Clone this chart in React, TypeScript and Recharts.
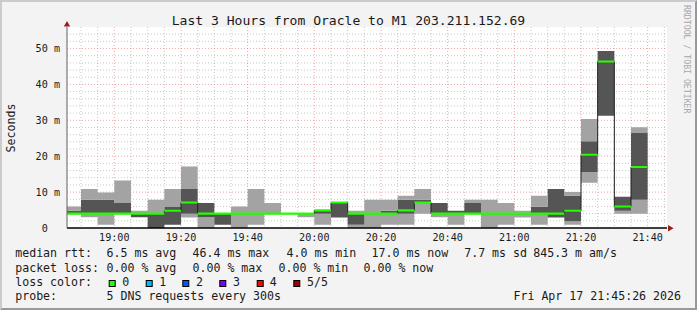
import React from 'react';
import { ComposedChart, Area, XAxis, YAxis, CartesianGrid } from 'recharts';

// ---------- data (5-minute slots, values in milliseconds) ----------
const slotTimes = [
  '18:45', '18:50', '18:55', '19:00', '19:05', '19:10', '19:15', '19:20', '19:25', '19:30',
  '19:35', '19:40', '19:45', '19:50', '19:55', '20:00', '20:05', '20:10', '20:15', '20:20',
  '20:25', '20:30', '20:35', '20:40', '20:45', '20:50', '20:55', '21:00', '21:05', '21:10',
  '21:15', '21:20', '21:25', '21:30', '21:35',
];
const pingMin = [
  4.0, 3.0, 0.9, 4.0, 3.0, 0.0, 0.9, 2.9, 0.0, 0.9,
  0.0, 0.9, 4.0, 4.0, 3.0, 0.9, 2.9, 0.0, 0.0, 0.9,
  0.9, 4.0, 3.0, 0.9, 4.0, 0.0, 0.9, 2.9, 0.9, 2.9,
  0.9, 12.6, 31.3, 4.0, 4.0,
];
const ping2 = [
  4.0, 4.0, 4.0, 4.0, 3.0, 0.0, 0.9, 4.0, 3.0, 0.9,
  4.0, 4.0, 4.0, 4.0, 4.0, 4.0, 2.9, 0.9, 4.0, 4.0,
  4.0, 7.1, 4.0, 4.0, 4.0, 4.0, 4.0, 4.0, 4.0, 2.9,
  1.9, 15.6, 31.3, 4.8, 7.9,
];
const median = [
  4.0, 4.0, 4.0, 4.0, 4.0, 4.0, 4.8, 7.1, 4.0, 4.0,
  4.0, 4.0, 4.0, 4.0, 4.0, 4.9, 7.1, 4.0, 4.0, 4.0,
  4.9, 7.1, 4.0, 4.0, 4.0, 4.0, 4.0, 4.0, 4.0, 4.0,
  4.8, 20.4, 46.4, 6.0, 17.0,
];
const ping4 = [
  4.8, 7.9, 7.9, 7.0, 4.0, 4.0, 6.0, 10.9, 7.0, 4.0,
  4.0, 4.0, 4.0, 4.0, 4.0, 4.9, 7.1, 4.0, 4.0, 4.8,
  7.9, 7.9, 7.0, 4.8, 7.0, 4.0, 4.0, 4.0, 5.9, 10.9,
  9.0, 24.2, 49.3, 8.7, 26.5,
];
const pingMax = [
  6.0, 10.9, 9.9, 13.2, 4.8, 7.9, 10.9, 17.1, 7.0, 4.0,
  6.0, 10.9, 7.0, 4.0, 4.0, 4.9, 7.1, 4.8, 7.9, 7.9,
  9.0, 10.9, 7.0, 4.8, 7.9, 7.9, 7.0, 4.8, 9.0, 10.9,
  10.0, 30.4, 49.3, 8.7, 28.1,
];

const xTickTimes = ['19:00', '19:20', '19:40', '20:00', '20:20', '20:40', '21:00', '21:20', '21:40'];
const yTickValues = [0, 10, 20, 30, 40, 50];
const yTickLabels = ['0  ', '10 m', '20 m', '30 m', '40 m', '50 m'];

const title = 'Last 3 Hours from Oracle to M1 203.211.152.69';
const yLabel = 'Seconds';
const watermark = 'RRDTOOL / TOBI OETIKER';
const legendRtt = ['median rtt:', '6.5 ms avg', '46.4 ms max', '4.0 ms min', '17.0 ms now', '7.7 ms sd', '845.3 m am/s'];
const legendLoss = ['packet loss:', '0.00 % avg', '0.00 % max', '0.00 % min', '0.00 % now'];
const lossLabels = ['0', '1', '2', '3', '4', '5/5'];
const lossColors = ['#26ff00', '#00b8ff', '#0059ff', '#7e00ff', '#ff0000', '#a00000'];
const probeText = ['probe:', '5 DNS requests every 300s'];
const stamp = 'Fri Apr 17 21:45:26 2026';

// ---------- helpers ----------
const STEP = 5;
const BAND = 0.6;
const toMin = (s: string) => {
  const [h, m] = s.split(':').map(Number);
  return h * 60 + m;
};
const X_START = toMin('18:45') + 0.8;
const X_END = X_START + 180;
const Y_MAX = 56;

const rows: any[] = slotTimes.map((s, i) => ({
  t: toMin(s),
  base: pingMin[i],
  lo: ping2[i] - pingMin[i],
  mid: ping4[i] - ping2[i],
  hi: pingMax[i] - ping4[i],
  medBase: median[i] - BAND / 2,
  medBand: BAND,
  median: median[i],
}));
// closing row so the last step is drawn to the end of its slot
rows.push({ ...rows[rows.length - 1], t: rows[rows.length - 1].t + STEP });

const xTicks = xTickTimes.map(toMin);
const xMinor: number[] = [];
for (let t = toMin('18:50'); t <= toMin('21:45'); t += STEP) if (!xTicks.includes(t)) xMinor.push(t);
const yMinor: number[] = [];
for (let v = 2; v < Y_MAX; v += 2) if (v % 10 !== 0) yMinor.push(v);
const yMajor = [10, 20, 30, 40, 50];

const scaleOf = (axis: any, v: number): number => {
  const s = axis?.scale;
  if (typeof s === 'function') return s(v);
  if (s && typeof s.map === 'function') return s.map(v);
  return NaN;
};

const MONO = '"DejaVu Sans Mono", monospace';
const LIGHT = '#a3a3a3';
const DARK = '#555555';

const XTick = (props: any) => {
  const { x, y, payload } = props;
  const i = xTicks.indexOf(payload.value);
  return (
    <text x={x} y={y} dy={7} textAnchor="middle" fontFamily={MONO} fontSize={10.15} fill="#1a1a1a">
      {xTickTimes[i]}
    </text>
  );
};
const YTick = (props: any) => {
  const { x, y, payload } = props;
  const i = yTickValues.indexOf(payload.value);
  return (
    <text x={x} y={y} dy={3.6} textAnchor="end" fontFamily={MONO} fontSize={10.15} fill="#1a1a1a"
      xmlSpace="preserve" style={{ whiteSpace: 'pre' }}>
      {yTickLabels[i]}
    </text>
  );
};

const legendX1 = [16, 107.3, 193.3, 287.3, 372.3, 465, 534];
const legendX2 = [16, 107.3, 193.3, 279.3, 364.3];
const boxX = [108.7, 145.7, 182.3, 219.3, 256.7, 293.3];
const boxLabelX = [123.3, 160.3, 197, 234, 270.7, 308];
const LF = 11.6;

export default function App() {
  return (
    <div style={{ position: 'absolute', left: 0, top: 0, width: 697, height: 310, background: '#f3f3f3', overflow: 'hidden' }}>
      <ComposedChart
        width={697}
        height={310}
        data={rows}
        margin={{ top: 27, right: 30, left: 7, bottom: 52 }}
      >
        <CartesianGrid
          fill="#ffffff"
          stroke="#8f8f8f"
          strokeOpacity={0.5}
          strokeDasharray="1 2"
          horizontalCoordinatesGenerator={({ yAxis }: any) => yMinor.map((v) => scaleOf(yAxis, v)).filter((n) => !isNaN(n))}
          verticalCoordinatesGenerator={({ xAxis }: any) => xMinor.map((v) => scaleOf(xAxis, v)).filter((n) => !isNaN(n))}
        />
        <CartesianGrid
          stroke="#de5050"
          strokeOpacity={0.5}
          strokeDasharray="1 2"
          horizontalCoordinatesGenerator={({ yAxis }: any) => yMajor.map((v) => scaleOf(yAxis, v)).filter((n) => !isNaN(n))}
          verticalCoordinatesGenerator={({ xAxis }: any) => xTicks.map((v) => scaleOf(xAxis, v)).filter((n) => !isNaN(n))}
        />
        <XAxis
          type="number"
          dataKey="t"
          domain={[X_START, X_END]}
          allowDataOverflow
          ticks={xTicks}
          interval={0}
          tick={<XTick />}
          tickLine={false}
          tickSize={3}
          tickMargin={3}
          height={30}
          axisLine={{ stroke: '#000000', strokeWidth: 1.3 }}
        />
        <YAxis
          type="number"
          domain={[0, Y_MAX]}
          ticks={yTickValues}
          interval={0}
          tick={<YTick />}
          tickLine={false}
          tickSize={3}
          tickMargin={4}
          width={60}
          axisLine={{ stroke: '#606060' }}
        />
        <Area type="stepAfter" dataKey="base" stackId="smoke" fill="none" stroke="none" isAnimationActive={false} activeDot={false} />
        <Area type="stepAfter" dataKey="lo" stackId="smoke" fill={LIGHT} fillOpacity={1} stroke="none" isAnimationActive={false} activeDot={false} />
        <Area type="stepAfter" dataKey="mid" stackId="smoke" fill={DARK} fillOpacity={1} stroke="none" isAnimationActive={false} activeDot={false} />
        <Area type="stepAfter" dataKey="hi" stackId="smoke" fill={LIGHT} fillOpacity={1} stroke="none" isAnimationActive={false} activeDot={false} />
        <Area type="stepAfter" dataKey="median" fill="none" fillOpacity={0} stroke="#202020" strokeWidth={1} isAnimationActive={false} activeDot={false} />
        <Area type="stepAfter" dataKey="medBase" stackId="med" fill="none" stroke="none" isAnimationActive={false} activeDot={false} />
        <Area type="stepAfter" dataKey="medBand" stackId="med" fill={lossColors[0]} fillOpacity={1} stroke="none" isAnimationActive={false} activeDot={false} />
      </ComposedChart>
      <svg width={697} height={310} style={{ position: 'absolute', left: 0, top: 0, pointerEvents: 'none' }}>
        {/* 3d frame */}
        <polygon points="0,310 2,308 2,2 695,2 697,0 0,0" fill="#cbcbcb" />
        <polygon points="2,308 695,308 695,2 697,0 697,310 0,310" fill="#999999" />
        {/* arrows */}
        <polygon points="63.8,26.5 70.2,26.5 67,21" fill="#9e1b1b" />
        <polygon points="668,225 668,231.6 673.6,228.3" fill="#9e1b1b" />
        <text x={348.5} y={24.5} textAnchor="middle" fontFamily={MONO} fontSize={13.05} fill="#1a1a1a">{title}</text>
        <text transform="translate(14.5,128) rotate(-90)" textAnchor="middle" fontFamily={MONO} fontSize={LF} fill="#1a1a1a">{yLabel}</text>
        <text transform="translate(684,5) rotate(90)" textAnchor="start" fontFamily={MONO} fontSize={8.2} fill="#a8a8a8">{watermark}</text>
        {legendRtt.map((s, i) => (
          <text key={'r' + i} x={legendX1[i] - 0.8} y={257.4} fontFamily={MONO} fontSize={LF} fill="#1a1a1a">{s}</text>
        ))}
        {legendLoss.map((s, i) => (
          <text key={'l' + i} x={legendX2[i] - 0.8} y={271.5} fontFamily={MONO} fontSize={LF} fill="#1a1a1a">{s}</text>
        ))}
        <text x={15.2} y={285.6} fontFamily={MONO} fontSize={LF} fill="#1a1a1a">loss color:</text>
        {lossLabels.map((s, i) => (
          <g key={'c' + i}>
            <rect x={boxX[i] + 0.5} y={280.5} width={6} height={6} fill={lossColors[i]} stroke="#000" strokeWidth={1} />
            <text x={boxLabelX[i] - 1} y={285.6} fontFamily={MONO} fontSize={LF} fill="#1a1a1a">{s}</text>
          </g>
        ))}
        <text x={15.2} y={299.7} fontFamily={MONO} fontSize={LF} fill="#1a1a1a">{probeText[0]}</text>
        <text x={106.5} y={299.7} fontFamily={MONO} fontSize={LF} fill="#1a1a1a">{probeText[1]}</text>
        <text x={681} y={299.7} textAnchor="end" fontFamily={MONO} fontSize={LF} fill="#1a1a1a">{stamp}</text>
      </svg>
    </div>
  );
}
